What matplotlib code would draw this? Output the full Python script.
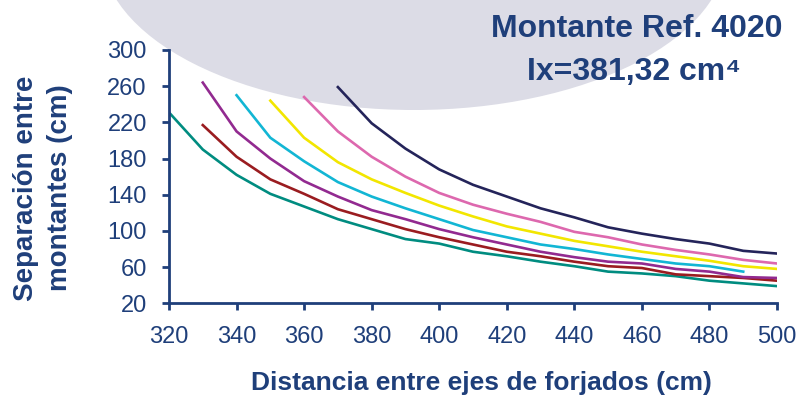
" separacion entre montantes, ref. 4020 "
import matplotlib
matplotlib.use("Agg")
import matplotlib.pyplot as plt
from matplotlib.patches import Ellipse

# distancia entre ejes de forjados (cm) and separacion (cm), one list per curve
x_teal = [320, 330, 340, 350, 360, 370, 380, 390, 400, 410, 420, 430, 440, 450, 460, 470, 480, 490, 500]
y_teal = [231, 190, 162, 141, 127, 113, 102, 91, 86, 77, 72, 66, 61, 55, 53, 50, 45, 42, 39]
x_red = [330, 340, 350, 360, 370, 380, 390, 400, 410, 420, 430, 440, 450, 460, 470, 480, 490, 500]
y_red = [217, 182, 157, 141, 124, 113, 102, 93, 85, 77, 72, 66, 61, 59, 52, 50, 48, 45]
x_purple = [330, 340, 350, 360, 370, 380, 390, 400, 410, 420, 430, 440, 450, 460, 470, 480, 490, 500]
y_purple = [264, 210, 180, 155, 138, 123, 113, 102, 93, 85, 77, 71, 66, 64, 58, 55, 49, 48]
x_cyan = [340, 350, 360, 370, 380, 390, 400, 410, 420, 430, 440, 450, 460, 470, 480, 490]
y_cyan = [250, 203, 177, 154, 138, 125, 113, 101, 93, 85, 80, 74, 69, 64, 61, 55]
x_yellow = [350, 360, 370, 380, 390, 400, 410, 420, 430, 440, 450, 460, 470, 480, 490, 500]
y_yellow = [244, 203, 176, 157, 142, 128, 116, 105, 97, 89, 83, 77, 72, 67, 61, 58]
x_pink = [360, 370, 380, 390, 400, 410, 420, 430, 440, 450, 460, 470, 480, 490, 500]
y_pink = [248, 210, 182, 160, 142, 129, 119, 110, 99, 93, 85, 79, 74, 68, 64]
x_navy = [370, 380, 390, 400, 410, 420, 430, 440, 450, 460, 470, 480, 490, 500]
y_navy = [259, 219, 191, 168, 151, 138, 125, 115, 104, 97, 91, 86, 78, 75]

xticks = list(range(320, 501, 20))
yticks = list(range(20, 301, 40))

BLUE = "#1F3F7A"
FONT = ["Liberation Sans", "DejaVu Sans"]

fig = plt.figure(figsize=(7.98, 3.98), dpi=100)
fig.patch.set_facecolor("white")

# grey blob at the top of the slide
bg = fig.add_axes([0, 0, 1, 1], zorder=0)
bg.set_xlim(0, 798)
bg.set_ylim(398, 0)
bg.axis("off")
bg.add_patch(Ellipse((414, -50), 626, 320, facecolor="#DCDCE6", edgecolor="none"))

ax = fig.add_axes([169 / 798, 1 - 303.3 / 398, 608 / 798, 253.3 / 398], zorder=1)
ax.patch.set_alpha(0)

series = [
    (x_teal, y_teal, "#008C80"),
    (x_red, y_red, "#9A1C20"),
    (x_purple, y_purple, "#922A90"),
    (x_cyan, y_cyan, "#12B6D4"),
    (x_yellow, y_yellow, "#F2E600"),
    (x_pink, y_pink, "#DD68AE"),
    (x_navy, y_navy, "#24245A"),
]
for xs, ys, c in series:
    ax.plot(xs, ys, color=c, lw=1.9, solid_joinstyle="miter")

ax.set_xlim(320, 500)
ax.set_ylim(20, 300)
ax.set_xticks(xticks)
ax.set_yticks(yticks)
for s in ["top", "right"]:
    ax.spines[s].set_visible(False)
for s in ["left", "bottom"]:
    ax.spines[s].set_color(BLUE)
    ax.spines[s].set_linewidth(2)
ax.tick_params(axis="both", colors=BLUE, width=2, length=5, direction="out")
ax.tick_params(axis="y", pad=11)
ax.tick_params(axis="x", pad=11)
for lab in ax.get_xticklabels() + ax.get_yticklabels():
    lab.set_fontfamily(FONT)
    lab.set_fontsize(17)
    lab.set_color(BLUE)

fig.text(481 / 798, 1 - 390 / 398, "Distancia entre ejes de forjados (cm)",
         ha="center", va="baseline", fontsize=19, fontweight="bold",
         color=BLUE, family=FONT)
fig.text(43 / 798, 1 - 188 / 398, "Separación entre\nmontantes (cm)",
         ha="center", va="center", rotation=90, fontsize=20,
         fontweight="bold", color=BLUE, family=FONT,
         multialignment="center", linespacing=1.38)

fig.text(637 / 798, 1 - 37.3 / 398, "Montante Ref. 4020", ha="center", va="baseline",
         fontsize=23, fontweight="bold", color=BLUE, family=FONT)
fig.text(634 / 798, 1 - 80 / 398, "Ix=381,32 cm\u2074", ha="center", va="baseline",
         fontsize=23, fontweight="bold", color=BLUE, family=FONT)

fig.savefig("out.png", dpi=100)
